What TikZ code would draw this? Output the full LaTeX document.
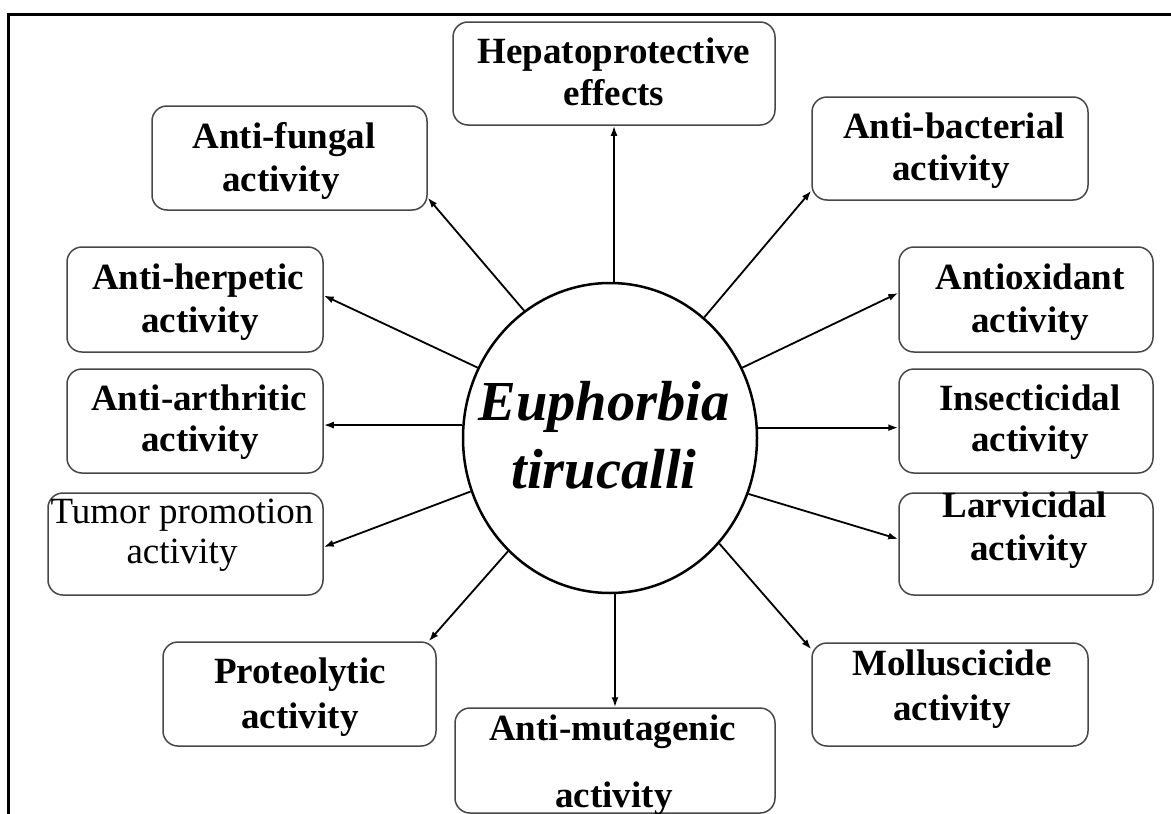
\documentclass[tikz,border=0pt]{standalone}
\usepackage{fontspec}
\setmainfont{Liberation Serif}
\usetikzlibrary{arrows.meta,shapes.geometric,calc}
\begin{document}
\begin{tikzpicture}[x=1pt,y=-1pt,
  bx/.style={draw=black!72,line width=1.5pt,rounded corners=15pt,inner sep=0pt},
  tx/.style={inner sep=0pt,anchor=base,font=\fontsize{37}{43}\selectfont\bfseries},
  txr/.style={inner sep=0pt,anchor=base,font=\fontsize{37}{43}\selectfont},
  ctx/.style={inner sep=0pt,anchor=base,font=\fontsize{56.5}{68}\selectfont\bfseries\itshape},
  arr/.style={line width=1.8pt,-{Latex[length=10pt,width=7pt]}},
  varr/.style={arr,line width=2.6pt}]
\fill[white] (0,0) rectangle (1171,814);
\useasboundingbox (0,0) rectangle (1171,814);
\draw[line width=3pt] (8,814) -- (8,14) -- (1171,14);

% central ellipse
\node[draw,ellipse,line width=2.5pt,minimum width=294pt,minimum height=310pt,inner sep=0pt] (c) at (610,438) {};
\node[ctx] (c1) at (604,420) {Euphorbia};
\node[ctx] (c2) at (604,488) {tirucalli};

% boxes
\node[bx,minimum width=322pt,minimum height=103pt] (hep)  at (614,73.5) {};
\node[bx,minimum width=275pt,minimum height=104pt] (fung) at (289.5,158) {};
\node[bx,minimum width=276pt,minimum height=103pt] (bact) at (950,148.5) {};
\node[bx,minimum width=256pt,minimum height=105pt] (herp) at (195,299.5) {};
\node[bx,minimum width=256pt,minimum height=104pt] (arth) at (195,421) {};
\node[bx,minimum width=275pt,minimum height=102pt] (tum)  at (185.5,544) {};
\node[bx,minimum width=273pt,minimum height=104pt] (prot) at (299.5,694) {};
\node[bx,minimum width=320pt,minimum height=105pt] (mut)  at (615,760.5) {};
\node[bx,minimum width=276pt,minimum height=103pt] (moll) at (950,694.5) {};
\node[bx,minimum width=254pt,minimum height=105pt] (aox)  at (1026,299.5) {};
\node[bx,minimum width=254pt,minimum height=104pt] (ins)  at (1026,421) {};
\node[bx,minimum width=254pt,minimum height=102pt] (larv) at (1026,544) {};

% texts
\node[tx] (hep1) at (614,63) {Hepatoprotective};
\node[tx] (hep2) at (614,105) {effects};
\node[tx] (fung1) at (284,148) {Anti-fungal};
\node[tx] (fung2) at (281,191) {activity};
\node[tx] (bact1) at (954,138) {Anti-bacterial};
\node[tx] (bact2) at (951,180) {activity};
\node[tx] (herp1) at (198,289) {Anti-herpetic};
\node[tx] (herp2) at (200,332) {activity};
\node[tx] (arth1) at (199,410) {Anti-arthritic};
\node[tx] (arth2) at (200,451) {activity};
\node[txr] (tum1) at (182,523) {Tumor promotion};
\node[txr] (tum2) at (182,563) {activity};
\node[tx] (prot1) at (300,683) {Proteolytic};
\node[tx] (prot2) at (300,728) {activity};
\node[tx] (mut1) at (612.5,740) {Anti-mutagenic};
\node[tx] (mut2) at (614,807) {activity};
\node[tx] (moll1) at (952,675) {Molluscicide};
\node[tx] (moll2) at (952,720) {activity};
\node[tx] (aox1) at (1030,289) {Antioxidant};
\node[tx] (aox2) at (1030,332) {activity};
\node[tx] (ins1) at (1030,410) {Insecticidal};
\node[tx] (ins2) at (1030,451) {activity};
\node[tx] (larv1) at (1025,517) {Larvicidal};
\node[tx] (larv2) at (1029,560) {activity};

% connectors
\draw[varr] (c.north -| hep.south) -- (hep.south);
\draw[varr] (c.south -| mut.north) -- (mut.north);
\draw[arr] (c.124.8) -- ($(fung.south east)+(0,-13)$);
\draw[arr] (c.52.9) -- ($(bact.south west)+(0,-10)$);
\draw[arr] (c.152.1) -- ($(herp.east)+(0,-4)$);
\draw[arr] (c.175.7) -- (c.175.7 -| arth.east);
\draw[arr] (c.201.4) -- ($(tum.east)+(0,3)$);
\draw[arr] (c.228.7) -- ($(prot.north east)+(-8,0)$);
\draw[arr] (c.28.6) -- ($(aox.west)+(0,-6.5)$);
\draw[arr] (c.4.7) -- (c.4.7 -| ins.west);
\draw[arr] (c.338.6) -- ($(larv.west)+(0,-5)$);
\draw[arr] (c.316.3) -- ($(moll.north west)+(0,7)$);
\end{tikzpicture}
\end{document}
